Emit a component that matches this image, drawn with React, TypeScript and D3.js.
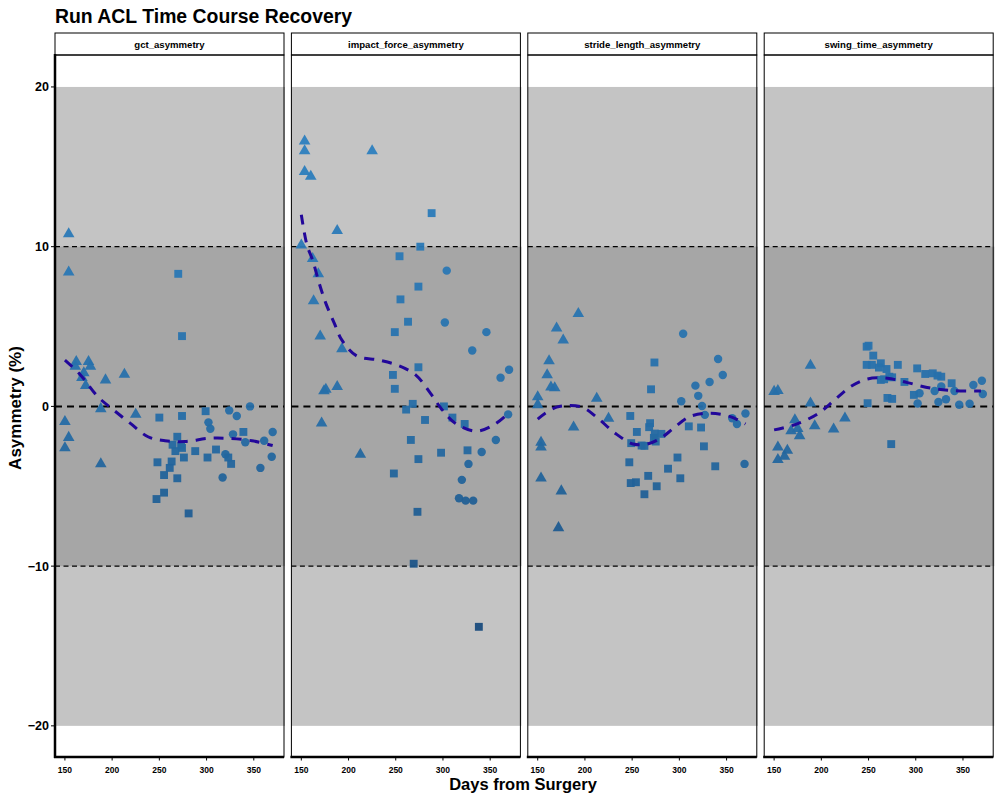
import * as d3 from 'd3';

type Pt = [number, number, 'T' | 'S' | 'C'];

const TITLE = 'Run ACL Time Course Recovery';
const METRICS = ['gct_asymmetry', 'impact_force_asymmetry', 'stride_length_asymmetry', 'swing_time_asymmetry'];
const X_TICKS = [150, 200, 250, 300, 350];
const Y_TICKS = [20, 10, 0, -10, -20];
const BANDS = [20, 10];

const gctPts: Pt[] = [
  [154, 10.8, 'T'], [154, 8.4, 'T'], [162, 2.8, 'T'], [161, 2.5, 'T'], [175, 2.8, 'T'], [177, 2.5, 'T'],
  [170, 2.1, 'T'], [168, 1.8, 'T'], [172, 1.3, 'T'], [193, 1.65, 'T'], [213, 2.0, 'T'], [188, -0.15, 'T'],
  [225, -0.5, 'T'], [150, -0.95, 'T'], [154, -1.95, 'T'], [150, -2.6, 'T'], [188, -3.6, 'T'],
  [270, 8.3, 'S'], [274, 4.4, 'S'], [250, -0.7, 'S'], [274, -0.6, 'S'], [299, -0.3, 'S'], [269, -1.9, 'S'],
  [264, -2.4, 'S'], [273, -2.45, 'S'], [267, -2.8, 'S'], [274, -2.6, 'S'], [276, -3.2, 'S'], [288, -2.8, 'S'],
  [310, -2.7, 'S'], [301, -3.2, 'S'], [339, -1.6, 'S'], [248, -3.5, 'S'], [263, -3.45, 'S'], [261, -3.85, 'S'],
  [255, -4.3, 'S'], [269, -4.5, 'S'], [255, -5.4, 'S'], [247, -5.8, 'S'], [281, -6.7, 'S'], [326, -3.6, 'S'],
  [323, -3.2, 'S'],
  [346, 0, 'C'], [324, -0.25, 'C'], [332, -0.6, 'C'], [302, -1.0, 'C'], [304, -1.4, 'C'], [328, -1.75, 'C'],
  [370, -1.6, 'C'], [341, -2.25, 'C'], [361, -2.15, 'C'], [369, -3.15, 'C'], [320, -3.0, 'C'], [357, -3.85, 'C'],
  [317, -4.45, 'C'],
];

const impactPts: Pt[] = [
  [153.5, 16.6, 'T'], [153.5, 16.0, 'T'], [153.5, 14.7, 'T'], [160, 14.4, 'T'], [225, 16.0, 'T'], [188, 11.0, 'T'],
  [150, 10.1, 'T'], [162, 9.25, 'T'], [168, 8.3, 'T'], [163, 6.6, 'T'], [170, 4.4, 'T'], [193, 3.6, 'T'],
  [176, 1.07, 'T'], [174, 0.97, 'T'], [188, 1.24, 'T'], [171.5, -1.05, 'T'], [212.5, -3.0, 'T'],
  [288, 12.1, 'S'], [276, 10.0, 'S'], [254, 9.4, 'S'], [274, 7.5, 'S'], [255, 6.7, 'S'], [263, 5.3, 'S'],
  [249, 4.65, 'S'], [274, 2.45, 'S'], [247, 1.97, 'S'], [249, 1.1, 'S'], [268, 0.16, 'S'], [261, -0.2, 'S'],
  [281, -0.85, 'S'], [301, 0, 'S'], [310, -0.7, 'S'], [323, -1.1, 'S'], [266, -2.1, 'S'], [298, -2.9, 'S'],
  [326, -2.75, 'S'], [274, -3.3, 'S'], [248, -4.2, 'S'], [273, -6.6, 'S'], [269, -9.85, 'S'], [338, -13.8, 'S'],
  [304, 8.5, 'C'], [302, 5.25, 'C'], [346, 4.65, 'C'], [331, 3.5, 'C'], [370, 2.3, 'C'], [361, 1.8, 'C'],
  [369, -0.5, 'C'], [356, -2.1, 'C'], [341, -2.85, 'C'], [327, -3.6, 'C'], [320, -4.6, 'C'], [317, -5.75, 'C'],
  [324, -5.9, 'C'], [332, -5.9, 'C'],
];

const stridePts: Pt[] = [
  [193, 5.8, 'T'], [170, 4.9, 'T'], [177, 4.15, 'T'], [162, 2.85, 'T'], [160, 1.97, 'T'], [164, 1.2, 'T'],
  [168, 1.15, 'T'], [150, 0.6, 'T'], [212.5, 0.5, 'T'], [150, 0.1, 'T'], [225, -0.75, 'T'], [188, -1.3, 'T'],
  [153.5, -2.25, 'T'], [153.5, -2.55, 'T'], [153.5, -4.5, 'T'], [175, -5.3, 'T'], [172, -7.6, 'T'],
  [273.6, 2.75, 'S'], [270, 1.07, 'S'], [248, -0.6, 'S'], [269, -1.05, 'S'], [268, -1.3, 'S'], [255, -1.6, 'S'],
  [274, -1.7, 'S'], [281, -1.72, 'S'], [273, -1.97, 'S'], [275, -2.2, 'S'], [249, -2.3, 'S'], [260, -2.45, 'S'],
  [263, -2.47, 'S'], [310, -1.25, 'S'], [323, -1.32, 'S'], [326, -2.5, 'S'], [298, -3.2, 'S'], [338, -3.75, 'S'],
  [247, -3.5, 'S'], [288, -3.9, 'S'], [267, -4.35, 'S'], [301, -4.5, 'S'], [248.5, -4.8, 'S'], [254, -4.75, 'S'],
  [276, -5.0, 'S'], [263, -5.5, 'S'],
  [304, 4.55, 'C'], [341, 2.97, 'C'], [346, 1.97, 'C'], [332, 1.53, 'C'], [317, 1.3, 'C'], [320, 0.66, 'C'],
  [302, 0.32, 'C'], [324, 0.03, 'C'], [327, -0.53, 'C'], [356, -0.74, 'C'], [361, -1.1, 'C'], [370, -0.45, 'C'],
  [369, -3.6, 'C'],
];

const swingPts: Pt[] = [
  [150, 0.93, 'T'], [154, 0.99, 'T'], [188.5, 2.57, 'T'], [188.5, 0.2, 'T'], [225, -0.74, 'T'], [172, -0.84, 'T'],
  [193, -1.22, 'T'], [213, -1.43, 'T'], [175, -1.4, 'T'], [168, -1.53, 'T'], [177, -1.84, 'T'], [154, -2.55, 'T'],
  [164, -2.76, 'T'], [161, -3.13, 'T'], [154, -3.34, 'T'],
  [248, 3.74, 'S'], [250, 3.8, 'S'], [255, 3.18, 'S'], [248, 2.6, 'S'], [253.5, 2.6, 'S'], [263, 2.7, 'S'],
  [261, 2.43, 'S'], [269, 2.34, 'S'], [281, 2.6, 'S'], [301.5, 2.38, 'S'], [310, 2.03, 'S'], [318, 2.07, 'S'],
  [323, 1.93, 'S'], [327, 1.86, 'S'], [338, 1.45, 'S'], [272, 1.86, 'S'], [275, 1.82, 'S'], [263, 1.66, 'S'],
  [266.5, 1.7, 'S'], [288, 1.53, 'S'], [298, 0.72, 'S'], [270, 0.53, 'S'], [275, 0.47, 'S'], [249, 0.2, 'S'],
  [274, -2.36, 'S'],
  [370, 1.6, 'C'], [361, 1.34, 'C'], [327, 1.24, 'C'], [304, 0.82, 'C'], [320, 0.97, 'C'], [341, 0.97, 'C'],
  [371, 0.78, 'C'], [332, 0.45, 'C'], [324, 0.28, 'C'], [302, 0.18, 'C'], [346, 0.1, 'C'], [357, 0.16, 'C'],
];

// smooth trend
const gctTrend = [[150, 2.9], [166, 2.0], [185, 0.6], [201, -0.2], [219, -1.05], [238, -1.9], [256, -2.15],
  [277, -2.2], [302, -2.0], [323, -2.0], [348, -2.15], [370, -2.45]];
const impactTrend = [[150, 12.0], [156, 10.1], [162, 9.15], [169, 7.7], [176, 6.45], [185, 5.2], [193, 4.15],
  [209, 3.15], [232, 2.9], [253, 2.55], [271, 1.97], [287, 0.8], [299, -0.2], [313, -1.05], [335, -1.55],
  [354, -1.15], [368, -0.5]];
const strideTrend = [[150, -0.8], [158, -0.43], [170, -0.05], [181, 0.05], [197, -0.05], [212.5, -0.68],
  [232, -1.68], [251, -2.35], [265.5, -2.36], [280, -2.0], [294, -1.36], [311, -0.64], [332.5, -0.43],
  [354, -0.64], [370, -1.1]];
const swingTrend = [[150, -1.47], [173, -1.12], [196, -0.47], [214, 0.4], [231, 1.24], [249, 1.72], [270, 1.76],
  [291, 1.49], [316, 1.14], [341, 0.99], [369, 0.97]];

const POINTS = [gctPts, impactPts, stridePts, swingPts];
const TRENDS = [gctTrend, impactTrend, strideTrend, swingTrend];

const W = 999, H = 799;
const PANEL_LEFT = 55, PANEL_W = 229, PANEL_STEP = 236.4;
const PANEL_TOP = 55, PANEL_BOTTOM = 757;
const STRIP_TOP = 33;
const FONT = '"Liberation Sans", Arial, Helvetica, sans-serif';

const SHAPES = {
  T: d3.symbol().type(d3.symbolTriangle).size(58)(),
  S: d3.symbol().type(d3.symbolSquare).size(62)(),
  C: d3.symbol().type(d3.symbolCircle).size(56)(),
};

export default function App() {
  const x = d3.scaleLinear().domain([139.5, 382]).range([0, PANEL_W]);
  const y = d3.scaleLinear().domain([-21.95, 22]).range([PANEL_BOTTOM, PANEL_TOP]);
  const color = d3.scaleLinear<string>().domain([-14, 0, 17]).range(['#1a4b7c', '#266ea8', '#2d80c0']);
  const line = d3.line<number[]>().x(d => x(d[0])).y(d => y(d[1])).curve(d3.curveCatmullRom);

  return (
    <div style={{ position: 'absolute', left: 0, top: 0 }}>
      <svg width={W} height={H} style={{ display: 'block', fontFamily: FONT }}>
        <rect width={W} height={H} fill="#ffffff" />
        <text x={55} y={23} fontSize={19.4} fontWeight="bold">{TITLE}</text>

        {METRICS.map((m, i) => {
          const left = PANEL_LEFT + i * PANEL_STEP;
          return (
            <g key={m} transform={`translate(${left},0)`}>
              <rect x={0} y={STRIP_TOP} width={PANEL_W} height={PANEL_TOP - STRIP_TOP}
                fill="#ffffff" stroke="#000" strokeWidth={1} />
              <text x={PANEL_W / 2} y={48} textAnchor="middle" fontSize={9.6} fontWeight="bold">{m}</text>

              <rect x={0} y={y(BANDS[0])} width={PANEL_W + 1} height={y(-BANDS[0]) - y(BANDS[0])} fill="#c4c4c4" />
              <rect x={0} y={y(BANDS[1])} width={PANEL_W + 1} height={y(-BANDS[1]) - y(BANDS[1])} fill="#a6a6a6" />

              {[10, -10].map(v => (
                <line key={v} x1={0} x2={PANEL_W} y1={y(v)} y2={y(v)}
                  stroke="#000" strokeWidth={1.3} strokeDasharray="5,3.5" />
              ))}
              <line x1={0} x2={PANEL_W} y1={y(0)} y2={y(0)} stroke="#000" strokeWidth={2} strokeDasharray="7,5" />

              {POINTS[i].map((p, j) => (
                <path key={j} d={SHAPES[p[2]]!} transform={`translate(${x(p[0])},${y(p[1])})`}
                  fill={color(p[1])} opacity={0.95} />
              ))}

              <path d={line(TRENDS[i])!} fill="none" stroke="#22079a" strokeWidth={3}
                strokeDasharray="10,8" />

              <rect x={0} y={PANEL_TOP} width={PANEL_W} height={PANEL_BOTTOM - PANEL_TOP}
                fill="none" stroke="#000" strokeWidth={1} />
              <line x1={-1} x2={PANEL_W} y1={PANEL_BOTTOM} y2={PANEL_BOTTOM} stroke="#000" strokeWidth={2.5} />
              {i === 0 && (
                <line x1={0} x2={0} y1={PANEL_TOP - 1} y2={PANEL_BOTTOM + 1} stroke="#000" strokeWidth={2.5} />
              )}

              {X_TICKS.map(t => (
                <g key={t} transform={`translate(${x(t)},${PANEL_BOTTOM})`}>
                  <line y1={0} y2={3.5} stroke="#000" strokeWidth={1} />
                  <text y={16} textAnchor="middle" fontSize={8.5} fontWeight="bold">{t}</text>
                </g>
              ))}

              {i === 0 && Y_TICKS.map(t => (
                <g key={t} transform={`translate(0,${y(t)})`}>
                  <line x1={-4} x2={0} stroke="#000" strokeWidth={1} />
                  <text x={-6} dy="0.35em" textAnchor="end" fontSize={12.5} fontWeight="bold">
                    {t < 0 ? `\u2212${-t}` : t}
                  </text>
                </g>
              ))}
            </g>
          );
        })}

        <text x={523} y={790} textAnchor="middle" fontSize={16.5} fontWeight="bold">Days from Surgery</text>
        <text transform={`translate(21,${(PANEL_TOP + PANEL_BOTTOM) / 2 + 2}) rotate(-90)`} textAnchor="middle"
          fontSize={17} fontWeight="bold">Asymmetry (%)</text>
      </svg>
    </div>
  );
}
